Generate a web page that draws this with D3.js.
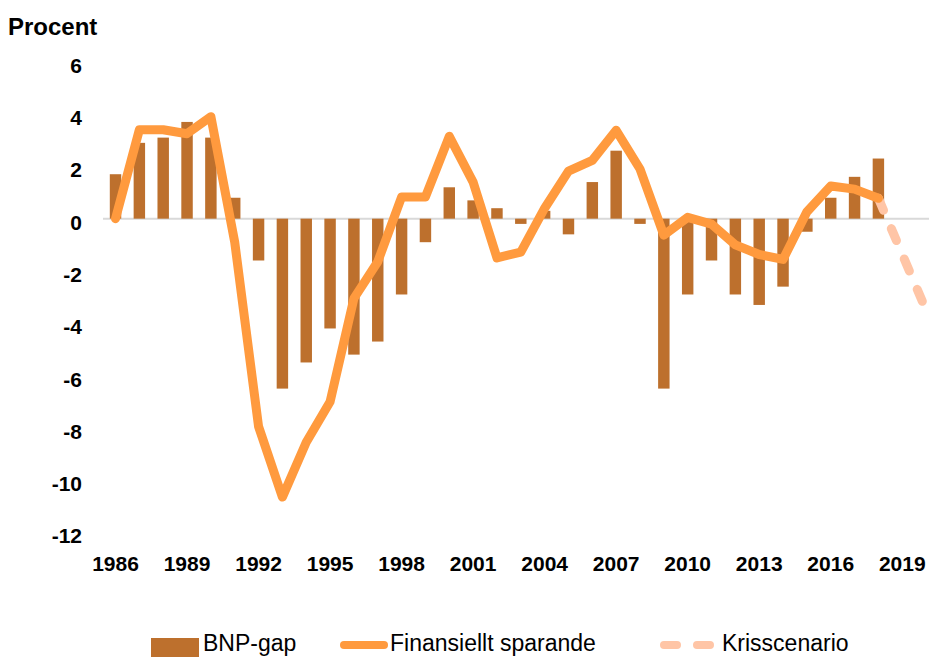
<!DOCTYPE html>
<meta charset="utf-8">
<style>
body { margin: 0; background: #fff; }
text { font-family: "Liberation Sans", Arial, sans-serif; }
.axis text { font-weight: bold; font-size: 21px; fill: #000; }
.legend text { font-size: 23px; fill: #000; }
</style>
<body>
<script src="https://d3js.org/d3.v7.min.js"></script>
<script>

var years = d3.range(1986, 2021);
var tickYears = [1986, 1989, 1992, 1995, 1998, 2001, 2004, 2007, 2010, 2013, 2016, 2019];
var yTicks = [6, 4, 2, 0, -2, -4, -6, -8, -10, -12];

// BNP-gap, 1986-2018
var gap = [1.7, 2.9, 3.1, 3.7, 3.1, 0.8, -1.6, -6.5, -5.5, -4.2, -5.2, -4.7, -2.9, -0.9,
  1.2, 0.7, 0.4, -0.2, 0.3, -0.6, 1.4, 2.6, -0.2, -6.5, -2.9, -1.6, -2.9, -3.3, -2.6, -0.5,
  0.8, 1.6, 2.3];
// Finansiellt sparande, 1986-2018
var saving = [0.0, 3.4, 3.4, 3.25, 3.9, -0.9, -7.95, -10.65, -8.55, -7.0, -3.05, -1.65, 0.83, 0.83,
  3.15, 1.4, -1.5, -1.28, 0.4, 1.82, 2.23, 3.38, 1.9, -0.63, 0.05, -0.21, -1.0, -1.37, -1.56, 0.26,
  1.25, 1.13, 0.78];
// Krisscenario, 2018-2020
var crisisYears = [2018, 2019, 2020];
var crisis = [0.78, -1.36, -3.5];

var barColor = "#BD702D", lineColor = "#FF9A3E", crisisColor = "#FFC5A6";

var svg = d3.select("body").append("svg").attr("width", 929).attr("height", 657);

var x = d3.scaleBand().domain(years).range([103.6, 938]).paddingInner(0.52).paddingOuter(0.26);
var y = d3.scaleLinear().domain([-12, 6]).range([532.4, 61.8]);
var cx = d => x(d) + x.bandwidth() / 2;

svg.append("text").attr("x", 8).attr("y", 35)
  .style("font-weight", "bold").style("font-size", "24px").text("Procent");

// nollinje
svg.append("line").attr("x1", 103).attr("x2", 929).attr("y1", y(0)).attr("y2", y(0))
  .attr("stroke", "#D9D9D9").attr("stroke-width", 2);

svg.append("g").selectAll("rect").data(gap).join("rect")
  .attr("x", (d, i) => x(years[i]))
  .attr("width", x.bandwidth())
  .attr("y", d => y(Math.max(0, d)))
  .attr("height", d => Math.abs(y(d) - y(0)))
  .attr("fill", barColor);

var line = d3.line().x(d => cx(d[0])).y(d => y(d[1]));

svg.append("path")
  .datum(crisisYears.map((yr, i) => [yr, crisis[i]]))
  .attr("d", line).attr("fill", "none")
  .attr("stroke", crisisColor).attr("stroke-width", 9)
  .attr("stroke-linecap", "round").attr("stroke-dasharray", "13,20");

svg.append("path")
  .datum(saving.map((v, i) => [years[i], v]))
  .attr("d", line).attr("fill", "none")
  .attr("stroke", lineColor).attr("stroke-width", 9)
  .attr("stroke-linejoin", "round").attr("stroke-linecap", "round");

var yAxis = svg.append("g").attr("class", "axis").attr("transform", "translate(103,0)")
  .call(d3.axisLeft(y).tickValues(yTicks).tickSize(0).tickPadding(21).tickFormat(d => String(d)));
yAxis.select(".domain").remove();
yAxis.selectAll("text").attr("dy", "0.5em");

var xAxis = svg.append("g").attr("class", "axis").attr("transform", "translate(0,548)")
  .call(d3.axisBottom(x).tickValues(tickYears).tickSize(0).tickPadding(8));
xAxis.select(".domain").remove();

// legend
var lg = svg.append("g").attr("class", "legend");
lg.append("rect").attr("x", 151).attr("y", 638).attr("width", 48).attr("height", 19).attr("fill", barColor);
lg.append("text").attr("x", 203).attr("y", 651).text("BNP-gap");
lg.append("line").attr("x1", 344).attr("x2", 384).attr("y1", 645).attr("y2", 645)
  .attr("stroke", lineColor).attr("stroke-width", 8).attr("stroke-linecap", "round");
lg.append("text").attr("x", 390).attr("y", 651).text("Finansiellt sparande");
lg.append("line").attr("x1", 664).attr("x2", 715).attr("y1", 645).attr("y2", 645)
  .attr("stroke", crisisColor).attr("stroke-width", 8).attr("stroke-linecap", "round")
  .attr("stroke-dasharray", "13,20");
lg.append("text").attr("x", 722).attr("y", 651).text("Krisscenario");
</script>
</body>
